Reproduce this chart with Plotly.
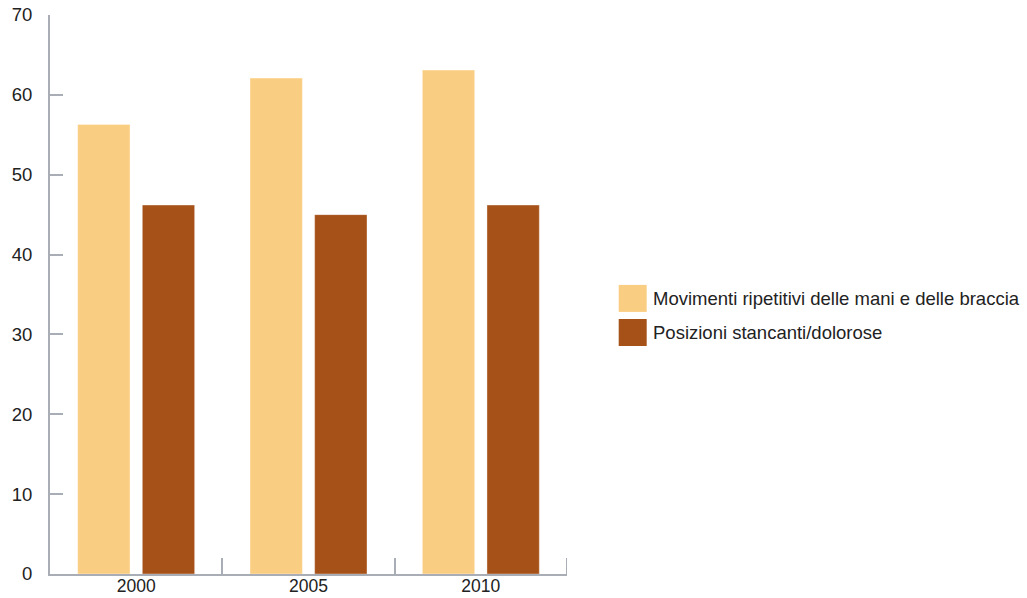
import plotly.graph_objects as go

# Anni di rilevazione e quote percentuali per tipo di rischio ergonomico
anni = ["2000", "2005", "2010"]
movimenti_ripetitivi = [56.3, 62.1, 63.1]
posizioni_stancanti = [46.2, 45.0, 46.2]

serie_nomi = [
    "Movimenti ripetitivi delle mani e delle braccia",
    "Posizioni stancanti/dolorose",
]
colori = ["#FACE82", "#A65118"]

axis_color = "#A9AEB6"
font_family = "Liberation Sans, Arial, sans-serif"
text_color = "#222222"
fs = 18.5

fig = go.Figure()
for nome, valori, colore in zip(serie_nomi, [movimenti_ripetitivi, posizioni_stancanti], colori):
    fig.add_trace(go.Bar(
        x=anni, y=valori, name=nome,
        marker=dict(color=colore, line=dict(color="rgba(255,255,255,0.6)", width=0.6)),
        showlegend=False,
    ))

# Legenda disegnata a mano: quadrati grandi a sinistra del testo
legend_y = [0.493, 0.432]
for nome, colore, yy in zip(serie_nomi, colori, legend_y):
    fig.add_shape(
        type="rect", xref="paper", yref="paper",
        x0=1.1, x1=1.1 + 28 / 517, y0=yy - 13.5 / 559, y1=yy + 13.5 / 559,
        fillcolor=colore, line=dict(width=0),
    )
    fig.add_annotation(
        text=nome, xref="paper", yref="paper", x=1.1 + 32 / 517, y=yy,
        xanchor="left", yanchor="middle", showarrow=False,
        font=dict(size=fs, color=text_color, family=font_family),
    )

# Tacca di chiusura sul bordo destro dell'asse delle categorie
fig.add_shape(
    type="line", xref="x", yref="y domain",
    x0=len(anni) - 0.5, x1=len(anni) - 0.5, y0=0, y1=16 / 559,
    line=dict(color=axis_color, width=2),
)

fig.update_layout(
    width=1027, height=598,
    margin=dict(l=50, r=460, t=15, b=24),
    paper_bgcolor="white", plot_bgcolor="white",
    barmode="group", bargap=0.25, bargroupgap=0.19,
    font=dict(family=font_family, size=fs, color=text_color),
    xaxis=dict(
        range=[-0.5, 2.5], automargin=False,
        showline=True, linecolor=axis_color, linewidth=2,
        ticks="inside", tickson="boundaries", ticklen=16, tickwidth=2, tickcolor=axis_color,
        showgrid=False, zeroline=False, ticklabelstandoff=-5,
        tickfont=dict(size=17.5, color=text_color),
    ),
    yaxis=dict(
        range=[0, 70], tickvals=[0, 10, 20, 30, 40, 50, 60, 70], automargin=False,
        showline=True, linecolor=axis_color, linewidth=2,
        ticks="inside", ticklen=13, tickwidth=2, tickcolor=axis_color,
        showgrid=False, zeroline=False, ticklabelstandoff=12,
        tickfont=dict(size=fs, color=text_color),
    ),
)

fig.write_html("out.html")
